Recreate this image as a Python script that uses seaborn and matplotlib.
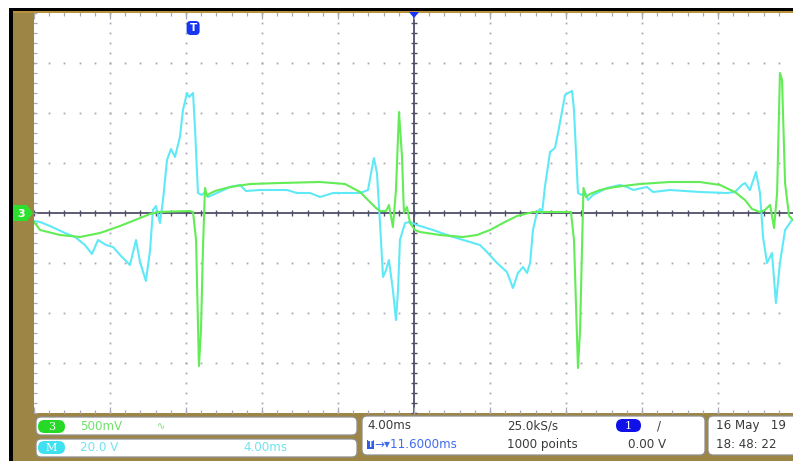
import numpy as np
import pandas as pd
import matplotlib
matplotlib.use("Agg")
import matplotlib.pyplot as plt
from matplotlib.patches import FancyBboxPatch, Rectangle, Polygon
import seaborn as sns

# ---------------------------------------------------------------------------
# Captured traces: time in ms relative to the trigger point, values in volts
# ---------------------------------------------------------------------------
ch3_time_ms = [
    -8.40, -8.08, -7.03, -5.98, -4.93, -3.87, -2.82, -2.29, -1.87, -0.19,
    -0.03, 0.13, 0.28, 0.39, 0.49, 0.60, 0.71, 0.81, 1.13, 1.92,
    2.97, 4.55, 6.65, 7.97, 8.76, 9.28, 9.60, 9.81, 10.13, 10.28,
    10.49, 10.65, 10.81, 10.97, 11.07, 11.23, 11.39, 11.65, 11.92, 12.97,
    14.18, 14.92, 15.60, 16.28, 17.02, 17.86, 19.86, 20.02, 20.23, 20.34,
    20.44, 20.52, 20.65, 20.86, 21.39, 22.18, 23.49, 25.07, 26.65, 27.71,
    28.49, 29.02, 29.39, 29.81, 30.07, 30.34, 30.55, 30.71, 30.86, 30.97,
    31.13, 31.34, 31.55,
]
ch3_volts = [
    -0.09, -0.17, -0.22, -0.24, -0.20, -0.13, -0.05, -0.01, 0.01, 0.02,
    0.01, -0.27, -1.53, -1.17, -0.37, 0.25, 0.17, 0.19, 0.22, 0.26,
    0.29, 0.30, 0.31, 0.29, 0.21, 0.11, 0.05, 0.02, 0.02, 0.08,
    -0.14, 0.23, 1.01, 0.56, 0.00, 0.06, -0.10, -0.17, -0.19, -0.22,
    -0.24, -0.22, -0.17, -0.10, -0.03, 0.01, 0.01, -0.27, -1.55, -1.17,
    -0.37, 0.25, 0.16, 0.19, 0.23, 0.26, 0.29, 0.31, 0.31, 0.28,
    0.21, 0.13, 0.04, 0.01, 0.03, 0.08, -0.15, 0.20, 1.40, 1.33,
    0.30, -0.03, -0.07,
]

math_time_ms = [
    -8.40, -8.08, -7.56, -6.77, -6.24, -5.72, -5.35, -5.03, -4.61, -4.24,
    -3.87, -3.35, -3.03, -2.82, -2.51, -2.29, -2.14, -1.98, -1.77, -1.61,
    -1.40, -1.19, -0.98, -0.72, -0.56, -0.35, -0.24, -0.03, 0.07, 0.23,
    0.44, 0.60, 0.76, 1.23, 1.92, 2.44, 2.76, 3.49, 4.92, 5.44,
    6.13, 6.65, 7.34, 8.07, 8.76, 9.18, 9.39, 9.49, 9.65, 9.81,
    9.97, 10.13, 10.28, 10.49, 10.65, 10.76, 10.86, 11.13, 11.39, 11.76,
    12.60, 13.49, 14.55, 15.07, 15.44, 15.97, 16.49, 16.81, 17.07, 17.34,
    17.55, 17.71, 17.86, 18.07, 18.23, 18.34, 18.49, 18.76, 19.02, 19.18,
    19.55, 19.71, 19.92, 20.02, 20.23, 20.44, 20.60, 20.76, 21.02, 21.76,
    22.44, 22.81, 23.13, 23.86, 24.18, 25.07, 26.65, 28.07, 28.49, 28.86,
    29.02, 29.28, 29.60, 29.81, 29.97, 30.18, 30.44, 30.65, 30.86, 31.13,
    31.49,
]
math_volts = [
    -3.2, -3.6, -5.2, -8.0, -9.6, -12.8, -16.4, -10.8, -12.8, -13.6,
    -16.8, -20.8, -10.8, -19.6, -27.2, -14.8, 1.2, 2.8, -4.0, 5.2,
    21.2, 25.6, 22.4, 30.4, 41.2, 48.0, 46.4, 48.0, 34.4, 8.0,
    7.2, 8.4, 6.4, 8.0, 10.4, 11.2, 8.8, 9.2, 9.2, 8.0,
    8.0, 6.4, 8.0, 8.0, 8.0, 9.2, 18.0, 22.0, 16.0, -4.0,
    -25.6, -22.8, -18.8, -30.8, -42.8, -30.8, -10.8, -4.0, -3.6, -4.8,
    -6.8, -9.2, -11.6, -12.8, -15.6, -20.0, -23.6, -30.0, -24.0, -21.6,
    -24.0, -20.0, -6.8, 0.0, 1.6, 0.0, 10.4, 24.4, 26.0, 32.0,
    47.2, 48.0, 48.8, 41.2, 8.0, 7.2, 8.4, 5.2, 7.2, 10.0,
    11.2, 10.4, 9.2, 10.4, 8.4, 9.2, 8.4, 8.0, 8.4, 11.2,
    12.0, 9.2, 16.4, 8.0, -9.6, -20.0, -16.0, -36.0, -20.0, -6.8,
    -2.8,
]

# Acquisition settings shown in the status bar
CH3_VOLTS_PER_DIV = 0.5
MATH_VOLTS_PER_DIV = 20.0
TIME_PER_DIV_MS = 4.0
TRIGGER_DELAY_MS = 11.6
SAMPLE_RATE = "25.0kS/s"
RECORD_LENGTH = "1000 points"
TRIGGER_LEVEL = "0.00 V"
DATE_TEXT = "16 May   19"
TIME_TEXT = "18: 48: 22"

H_DIVS, V_DIVS = 10, 8

# ---------------------------------------------------------------------------
W, H = 793, 461
OLIVE = "#9d8645"
GREEN = "#62ec55"
CYAN = "#5fe9f7"
GRID = "#a9a9b4"
AXIS = "#4f4f6a"
BLUE = "#1636f2"

df = pd.concat([
    pd.DataFrame({"t": ch3_time_ms,
                  "div": np.array(ch3_volts) / CH3_VOLTS_PER_DIV,
                  "trace": "CH3"}),
    pd.DataFrame({"t": math_time_ms,
                  "div": np.array(math_volts) / MATH_VOLTS_PER_DIV,
                  "trace": "MATH"}),
], ignore_index=True)

fig = plt.figure(figsize=(W / 100, H / 100), dpi=100)
fig.patch.set_facecolor("white")

# Background frame drawn in pixel units
bg = fig.add_axes([0, 0, 1, 1], zorder=0)
bg.set_xlim(0, W)
bg.set_ylim(H, 0)
bg.axis("off")
bg.add_patch(Rectangle((9, 8), W, 5, color="black", lw=0))
bg.add_patch(Rectangle((9, 8), 4, H, color="black", lw=0))
bg.add_patch(Rectangle((13, 12), 21, H, color=OLIVE, lw=0))
bg.add_patch(Rectangle((13, 411), W, 60, color=OLIVE, lw=0))
bg.add_patch(Rectangle((13, 11.5), W, 1.8, color="#b8913c", lw=0))

# Scope graticule
x_min = TRIGGER_DELAY_MS - TIME_PER_DIV_MS * H_DIVS / 2
x_max = TRIGGER_DELAY_MS + TIME_PER_DIV_MS * H_DIVS / 2
ax = fig.add_axes([34 / W, (H - 413) / H, 760 / W, 400 / H], zorder=1)
ax.set_facecolor("white")
ax.set_xlim(x_min, x_max)
ax.set_ylim(-V_DIVS / 2, V_DIVS / 2)
ax.set_xticks([])
ax.set_yticks([])
for s in ax.spines.values():
    s.set_visible(False)

minor_x = np.arange(x_min, x_max + 1e-6, TIME_PER_DIV_MS / 5)
minor_y = np.arange(-V_DIVS / 2, V_DIVS / 2 + 1e-6, 0.2)
for i in range(1, H_DIVS):
    if i == H_DIVS // 2:
        continue
    xv = x_min + i * TIME_PER_DIV_MS
    ax.plot(np.full_like(minor_y, xv), minor_y, ls="none", marker="s",
            ms=1.3, mew=0, color=GRID, zorder=1)
for j in range(-V_DIVS // 2 + 1, V_DIVS // 2):
    if j == 0:
        continue
    ax.plot(minor_x, np.full_like(minor_x, j), ls="none", marker="s",
            ms=1.3, mew=0, color=GRID, zorder=1)

# centre cross with minor ticks
ax.axhline(0, color=AXIS, lw=1.3, zorder=2)
ax.axvline(TRIGGER_DELAY_MS, color=AXIS, lw=1.3, zorder=2)
ax.plot(minor_x, np.zeros_like(minor_x), ls="none", marker="|", ms=4,
        mew=1.0, color=AXIS, zorder=2)
ax.plot(np.full_like(minor_y, TRIGGER_DELAY_MS), minor_y, ls="none",
        marker="_", ms=5, mew=1.0, color=AXIS, zorder=2)

# edge ticks
for yv in (-V_DIVS / 2, V_DIVS / 2):
    ax.plot(minor_x, np.full_like(minor_x, yv), ls="none", marker="|",
            ms=5, mew=0.9, color=GRID, zorder=2)
    major_x = x_min + np.arange(H_DIVS + 1) * TIME_PER_DIV_MS
    ax.plot(major_x, np.full_like(major_x, yv), ls="none", marker="|",
            ms=9, mew=0.9, color=GRID, zorder=2)
ax.plot(np.full_like(minor_y, x_min), minor_y, ls="none", marker="_",
        ms=5, mew=0.9, color=GRID, zorder=2)

# waveforms
sns.lineplot(data=df, x="t", y="div", hue="trace", hue_order=["MATH", "CH3"],
             palette={"CH3": GREEN, "MATH": CYAN}, sort=False, estimator=None,
             lw=1.5, legend=False, ax=ax, zorder=3)
ax.set_xlabel("")
ax.set_ylabel("")

# Overlay for markers and status bar (pixel units)
ov = fig.add_axes([0, 0, 1, 1], zorder=4)
ov.set_xlim(0, W)
ov.set_ylim(H, 0)
ov.axis("off")
ov.patch.set_alpha(0)

# channel 3 ground marker
ov.add_patch(Polygon([(13, 205), (27, 205), (33, 213), (27, 221), (13, 221)],
                     closed=True, fc="#2ee02e", ec="none"))
ov.text(21, 213.5, "3", color="white", fontsize=8, fontweight="bold",
        ha="center", va="center")

# trigger position marker
trig_px = 34 + (0 - x_min) / TIME_PER_DIV_MS * 76
ov.add_patch(FancyBboxPatch((trig_px - 7, 21), 13, 14,
                            boxstyle="round,pad=0,rounding_size=4",
                            fc=BLUE, ec="none"))
ov.text(trig_px - 0.5, 28, "T", color="white", fontsize=7.5,
        fontweight="bold", ha="center", va="center")
# horizontal position marker
ov.add_patch(Polygon([(409, 12), (419, 12), (414, 18)], closed=True,
                     fc=BLUE, ec="none"))


def box(x0, y0, w, h):
    ov.add_patch(FancyBboxPatch((x0, y0), w, h,
                                boxstyle="round,pad=0,rounding_size=5",
                                fc="white", ec="#8e8e8e", lw=0.9))


def pill(x0, y0, w, h, color, label):
    ov.add_patch(FancyBboxPatch((x0, y0), w, h,
                                boxstyle=f"round,pad=0,rounding_size={h / 2}",
                                fc=color, ec="none"))
    ov.text(x0 + w / 2, y0 + h / 2 + 0.5, label, color="white", fontsize=8,
            ha="center", va="center", family="DejaVu Serif")


FS = 8.6
TXT = "#3a3a3a"
box(36, 417, 321, 18)
box(36, 439, 321, 18)
box(362, 416, 343, 39)
box(708, 416, 100, 39)

pill(38, 420, 27, 13, "#27d927", "3")
ov.text(80, 426.5, f"{int(CH3_VOLTS_PER_DIV * 1000)}mV", color="#6fe06a",
        fontsize=FS, va="center")
ov.text(157, 426.5, "∿", color="#6fe06a", fontsize=7, va="center")

pill(38, 441, 27, 13, "#3fe0f0", "M")
ov.text(80, 447.5, f"{MATH_VOLTS_PER_DIV:.1f} V", color="#6fe3f0",
        fontsize=FS, va="center")
ov.text(243, 447.5, f"{TIME_PER_DIV_MS:.2f}ms", color="#6fe3f0",
        fontsize=FS, va="center")

ov.text(367, 425.5, f"{TIME_PER_DIV_MS:.2f}ms", color=TXT, fontsize=FS,
        va="center")
ov.text(507, 425.5, SAMPLE_RATE, color=TXT, fontsize=FS, va="center")
pill(616, 419, 25, 13, "#1010e8", "1")
ov.text(657, 425.5, "/", color=TXT, fontsize=FS, va="center")

ov.add_patch(Rectangle((367, 439.5), 7, 9, fc="#2e5be8", ec="none"))
ov.text(370.5, 444.2, "T", color="white", fontsize=5.5, fontweight="bold",
        ha="center", va="center")
ov.text(374.5, 444.5, f"→▾{TRIGGER_DELAY_MS:.4f}ms", color="#3f6bef",
        fontsize=FS, va="center")
ov.text(507, 444.5, RECORD_LENGTH, color=TXT, fontsize=FS, va="center")
ov.text(628, 444.5, TRIGGER_LEVEL, color=TXT, fontsize=FS, va="center")

ov.text(716, 425.5, DATE_TEXT, color=TXT, fontsize=FS, va="center")
ov.text(716, 444.5, TIME_TEXT, color=TXT, fontsize=FS, va="center")

fig.savefig("out.png", dpi=100)
